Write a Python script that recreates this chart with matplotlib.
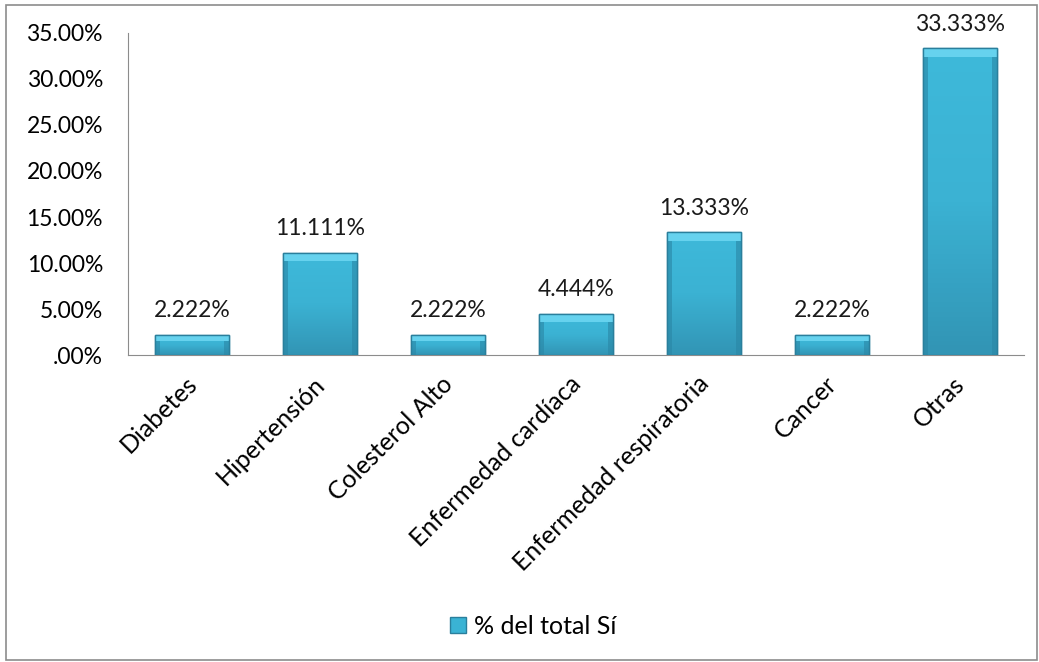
import matplotlib
matplotlib.use("Agg")
import matplotlib.pyplot as plt
import numpy as np
from matplotlib.patches import Rectangle
from matplotlib.ticker import FuncFormatter
from matplotlib.colors import LinearSegmentedColormap
from matplotlib.transforms import ScaledTranslation

categories = ["Diabetes", "Hipertensión", "Colesterol Alto", "Enfermedad cardíaca",
              "Enfermedad respiratoria", "Cancer", "Otras"]
values = [2.222, 11.111, 2.222, 4.444, 13.333, 2.222, 33.333]
series_name = "% del total Sí"

plt.rcParams['font.family'] = ['Lato', 'DejaVu Sans']

fig = plt.figure(figsize=(10.39, 6.62), dpi=100)
fig.patches.append(Rectangle((0.006, 0.003), 0.992, 0.99, transform=fig.transFigure,
                             fill=False, edgecolor='#8c8c8c', linewidth=1.2))
ax = fig.add_axes([0.1232, 0.4637, 0.8624, 0.4865])

x = list(range(len(categories)))
bars = ax.bar(x, values, width=0.58, color='#3AB3D4', edgecolor='#2A7F9C',
              linewidth=1.0, label=series_name, zorder=3)

# shading clipped to each bar
vgrad = np.linspace(0, 1, 64).reshape(-1, 1)
cmapv = LinearSegmentedColormap.from_list('v', ['#3295B5', '#3BB2D3', '#3EB9DA'])
for b in bars:
    x0, w, h = b.get_x(), b.get_width(), b.get_height()
    im = ax.imshow(vgrad, extent=(x0, x0 + w, 0, h), origin='lower', aspect='auto',
                   cmap=cmapv, zorder=3.5)
    im.set_clip_path(b)
    bev = min(0.9, h * 0.3)
    ax.bar(x0 + w / 2, bev, bottom=h - bev, width=w, color='#66D2EE', linewidth=0, zorder=3.6)
    ax.bar([x0 + 0.02, x0 + w - 0.02], [h, h], width=0.04, color='#2A86A5',
           alpha=0.6, linewidth=0, zorder=3.55)
    ax.bar(x0 + w / 2, h, width=w, fill=False, edgecolor='#2A7F9C', linewidth=1.0, zorder=3.7)

ax.set_xlim(-0.5, len(categories) - 0.5)
ax.set_ylim(0, 35)

for xi, v in zip(x, values):
    ax.text(xi, v + 1.5, f"{v:.3f}%", ha='center', va='bottom', fontsize=16.5, color='#1a1a1a')

ax.set_yticks([0, 5, 10, 15, 20, 25, 30, 35])
ax.yaxis.set_major_formatter(FuncFormatter(lambda v, p: ".00%" if v == 0 else f"{v:.2f}%"))
ax.set_xticks(x)
ax.set_xticklabels(categories, rotation=45, ha='right', rotation_mode='anchor', fontsize=18)
ax.tick_params(axis='y', labelsize=16.5, length=0, pad=18)
ax.tick_params(axis='x', length=0, pad=10)
shift = ScaledTranslation(-7 / 100, -3 / 100, fig.dpi_scale_trans)
for lab in ax.get_xticklabels():
    lab.set_transform(lab.get_transform() + shift)

for s in ['top', 'right']:
    ax.spines[s].set_visible(False)
ax.spines['left'].set_color('#8c8c8c')
ax.spines['bottom'].set_color('#8c8c8c')

leg = fig.legend(handles=[bars], labels=[series_name], loc='center', bbox_to_anchor=(0.513, 0.054),
                 frameon=False, fontsize=18, handlelength=0.65, handleheight=0.65, handletextpad=0.3)

fig.savefig("out.png", dpi=100)
